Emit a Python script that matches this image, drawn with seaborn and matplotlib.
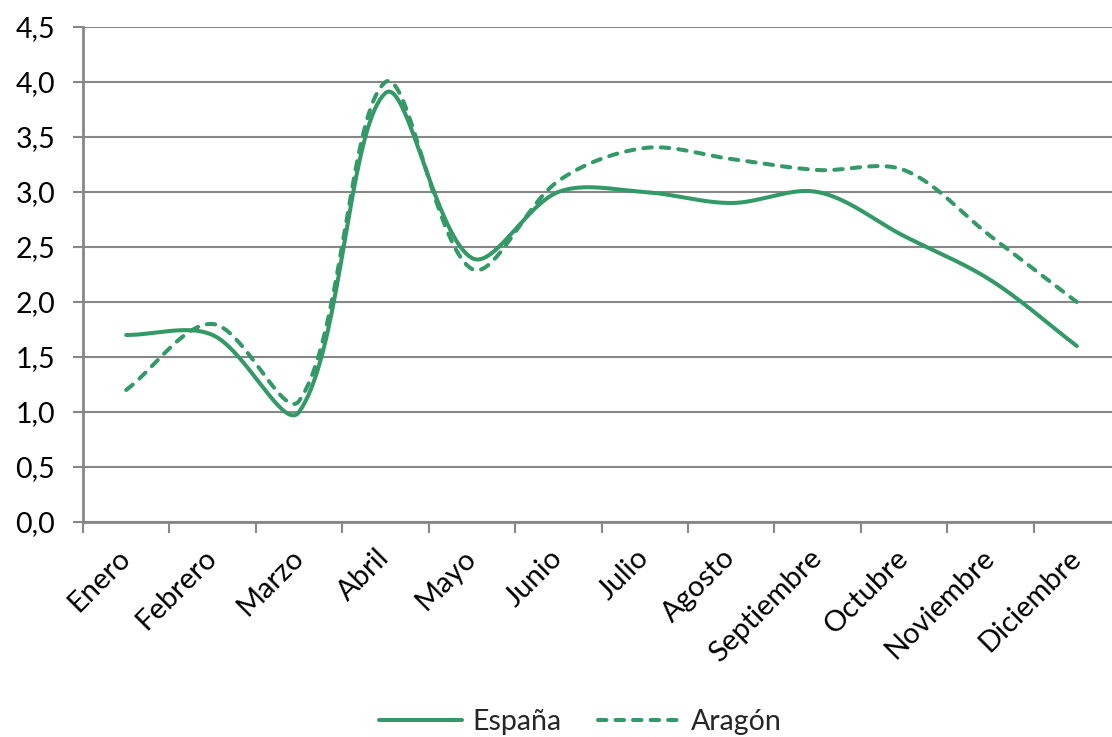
import matplotlib
matplotlib.use("Agg")
import matplotlib.pyplot as plt
import numpy as np
import pandas as pd
import seaborn as sns
from matplotlib.ticker import FixedLocator

meses = ['Enero', 'Febrero', 'Marzo', 'Abril', 'Mayo', 'Junio', 'Julio',
         'Agosto', 'Septiembre', 'Octubre', 'Noviembre', 'Diciembre']
espana = [1.7, 1.7, 1.0, 3.9, 2.4, 3.0, 3.0, 2.9, 3.0, 2.6, 2.2, 1.6]
aragon = [1.2, 1.8, 1.1, 4.0, 2.3, 3.1, 3.4, 3.3, 3.2, 3.2, 2.6, 2.0]
y_ticks = [0.0, 0.5, 1.0, 1.5, 2.0, 2.5, 3.0, 3.5, 4.0, 4.5]
y_labels = ['0,0', '0,5', '1,0', '1,5', '2,0', '2,5', '3,0', '3,5', '4,0', '4,5']

VERDE = '#339966'
GRIS = '#878787'
# pixel size of one category / one unit, used so the smoothing works in screen space
PX_X, PX_Y = 86.4, 110.0


def smooth(values, n=40):
    # spreadsheet style smoothed line: bezier, tangents scaled by segment lengths
    pts = np.column_stack([np.arange(len(values)) * PX_X, np.asarray(values, dtype=float) * PX_Y])
    ext = np.vstack([pts[0], pts, pts[-1]])
    out = []
    t = np.linspace(0, 1, n)[:, None]
    for i in range(len(pts) - 1):
        p0, p1, p2, p3 = ext[i], ext[i + 1], ext[i + 2], ext[i + 3]
        d01 = np.hypot(*(p1 - p0))
        d12 = np.hypot(*(p2 - p1))
        d23 = np.hypot(*(p3 - p2))
        c1 = p1 + (p2 - p0) * d12 / (d01 + d12) / 3.0
        c2 = p2 - (p3 - p1) * d12 / (d12 + d23) / 3.0
        seg = ((1 - t) ** 3) * p1 + 3 * ((1 - t) ** 2) * t * c1 + 3 * (1 - t) * t ** 2 * c2 + t ** 3 * p2
        out.append(seg if i == 0 else seg[1:])
    curve = np.vstack(out)
    return curve[:, 0] / PX_X, curve[:, 1] / PX_Y


frames = []
for nombre, vals in (('España', espana), ('Aragón', aragon)):
    cx, cy = smooth(vals)
    frames.append(pd.DataFrame({'x': cx, 'y': cy, 'serie': nombre}))
df = pd.concat(frames, ignore_index=True)

sns.set_theme(style='white')
plt.rcParams['font.family'] = ['Lato', 'DejaVu Sans']

fig = plt.figure(figsize=(11.12, 7.37), dpi=100)
ax = fig.add_axes([83 / 1112, 1 - 522 / 737, 1037 / 1112, (522 - 27) / 737])

sns.lineplot(data=df, x='x', y='y', hue='serie', style='serie',
             palette={'España': VERDE, 'Aragón': VERDE},
             dashes={'España': '', 'Aragón': (2.1, 2.25)},
             sort=False, estimator=None, linewidth=2.9, ax=ax,
             solid_capstyle='round', dash_capstyle='round')

ax.set_xlim(-0.5, len(meses) - 0.5)
ax.set_ylim(0, 4.5)
ax.set_xlabel('')
ax.set_ylabel('')

ax.set_yticks(y_ticks)
ax.set_yticklabels(y_labels, fontsize=20.5)
ax.yaxis.grid(True, color=GRIS, linewidth=1.5)
ax.set_axisbelow(True)

ax.set_xticks(range(len(meses)))
ax.set_xticklabels(meses, fontsize=21, rotation=45, ha='right', va='center', rotation_mode='anchor')
ax.xaxis.set_minor_locator(FixedLocator(np.arange(-0.5, len(meses), 1.0)))
ax.tick_params(axis='x', which='major', length=0, pad=23, colors='black')
ax.tick_params(axis='x', which='minor', length=8, width=1.5, color=GRIS, direction='out', bottom=True)
ax.tick_params(axis='y', length=7, width=1.5, color=GRIS, direction='out', pad=13, left=True, labelcolor='black')

for side in ('top', 'right'):
    ax.spines[side].set_visible(False)
for side in ('left', 'bottom'):
    ax.spines[side].set_color(GRIS)
    ax.spines[side].set_linewidth(2)

handles, labels = ax.get_legend_handles_labels()
ax.get_legend().remove()
fig.legend(handles, labels, loc='center', bbox_to_anchor=(0.522, 1 - 722 / 737), ncol=2,
           frameon=False, fontsize=20.5, handlelength=2.9, handletextpad=0.35, columnspacing=1.3)

fig.savefig('out.png', dpi=100)
